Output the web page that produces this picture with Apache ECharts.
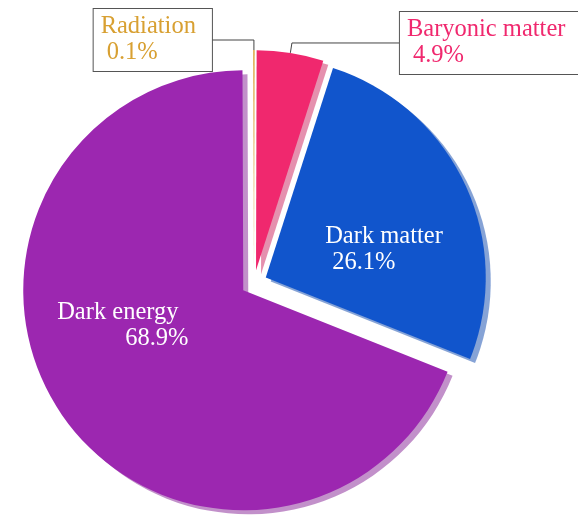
<!DOCTYPE html>
<html>
<head>
<meta charset="utf-8">
<script src="https://cdn.jsdelivr.net/npm/echarts@6/dist/echarts.min.js"></script>
<style>
  html, body { margin: 0; padding: 0; background: #ffffff; }
  #chart { width: 578px; height: 516px; }
</style>
</head>
<body>
<div id="chart"></div>
<script>
// Energy content of the universe (percent)
const names = ['Radiation', 'Baryonic matter', 'Dark matter', 'Dark energy'];
const shares = [0.1, 4.9, 26.1, 68.9];
const colors = ['#D8A032', '#F0286E', '#1155CC', '#9C27B0'];

const FONT = '"Liberation Serif", "Times New Roman", Times, serif';
const FONT_SIZE = 24.5;

// Drop shadow tint: the slice colour, slightly darkened, half transparent
function shadowOf(hex) {
  const n = parseInt(hex.slice(1), 16);
  const k = 0.85;
  const r = Math.round((n >> 16 & 255) * k);
  const g = Math.round((n >> 8 & 255) * k);
  const b = Math.round((n & 255) * k);
  return 'rgba(' + r + ',' + g + ',' + b + ',0.5)';
}

// Small slices: name + percentage inside a white box with a grey frame
function boxedLabel(color, padRight) {
  return {
    show: true,
    position: 'outside',
    formatter: '{n|{b}}\n{p|{d}%}',
    backgroundColor: '#ffffff',
    borderColor: '#555555',
    borderWidth: 1,
    padding: [5, padRight, 5, 7],
    distanceToLabelLine: 0,
    rich: {
      n: { fontFamily: FONT, fontSize: FONT_SIZE, color: color, lineHeight: 26, align: 'left' },
      p: { fontFamily: FONT, fontSize: FONT_SIZE, color: color, lineHeight: 26, align: 'left', padding: [0, 0, 0, 6] }
    }
  };
}

// Large slices: white text drawn on the slice itself
function innerLabel(indent) {
  return {
    show: true,
    position: 'inside',
    formatter: '{n|{b}}\n{p|{d}%}',
    rich: {
      n: { fontFamily: FONT, fontSize: FONT_SIZE, color: '#ffffff', lineHeight: 26, align: 'left' },
      p: { fontFamily: FONT, fontSize: FONT_SIZE, color: '#ffffff', lineHeight: 26, align: 'left', padding: [0, 0, 0, indent] }
    }
  };
}

const labelSetups = [
  { label: boxedLabel(colors[0], 16), labelLine: { show: true, length: 10, length2: 42 } },
  { label: boxedLabel(colors[1], 13), labelLine: { show: true, length: 10, length2: 108 } },
  { label: innerLabel(7), labelLine: { show: false } },
  { label: innerLabel(68), labelLine: { show: false } }
];

// Nudges for the inside labels, in pixels
const innerNudge = { 'Dark matter': [16, 20], 'Dark energy': [-27, -28] };

const pieData = names.map(function (name, i) {
  return {
    name: name,
    value: shares[i],
    selected: true,
    itemStyle: {
      color: colors[i],
      shadowColor: shadowOf(colors[i]),
      shadowBlur: 0,
      shadowOffsetX: 5,
      shadowOffsetY: 4
    },
    label: labelSetups[i].label,
    labelLine: labelSetups[i].labelLine
  };
});

const chart = echarts.init(document.getElementById('chart'), null, { renderer: 'canvas' });
chart.setOption({
  animation: false,
  backgroundColor: '#ffffff',
  series: [{
    type: 'pie',
    center: [254, 283],
    radius: 220,
    startAngle: 90.2,
    clockwise: true,
    percentPrecision: 1,
    selectedMode: 'multiple',
    selectedOffset: 13,
    avoidLabelOverlap: false,
    emphasis: { disabled: true },
    labelLine: {
      smooth: false,
      lineStyle: { color: '#444444', width: 1 }
    },
    labelLayout: function (params) {
      const nudge = innerNudge[names[params.dataIndex]];
      return nudge ? { dx: nudge[0], dy: nudge[1] } : {};
    },
    data: pieData
  }]
});
</script>
</body>
</html>
